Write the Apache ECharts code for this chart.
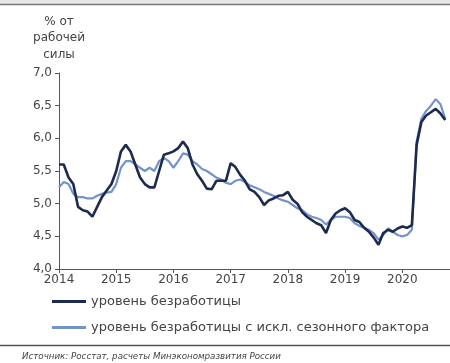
<!DOCTYPE html>
<html>
<head>
<meta charset="utf-8">
<script src="https://cdn.jsdelivr.net/npm/echarts@6/dist/echarts.min.js"></script>
<style>
html,body{margin:0;padding:0;background:#fff;}
#c{width:450px;height:363px;}
</style>
</head>
<body>
<div id="c"></div>
<script>
// Monthly data, Jan 2014 .. Oct 2020
const startYear = 2014;
const yearLabels = ['2014','2015','2016','2017','2018','2019','2020'];
const yTicks = ['4,0','4,5','5,0','5,5','6,0','6,5','7,0'];
const seriesNames = ['уровень безработицы', 'уровень безработицы с искл. сезонного фактора'];
const unemployment = [
  5.6, 5.6, 5.4, 5.3, 4.95, 4.9, 4.88, 4.8, 4.95, 5.1, 5.2, 5.3,
  5.5, 5.8, 5.9, 5.8, 5.6, 5.4, 5.3, 5.25, 5.25, 5.5, 5.75, 5.77,
  5.8, 5.85, 5.95, 5.85, 5.6, 5.45, 5.35, 5.23, 5.22, 5.35, 5.35, 5.35,
  5.62, 5.56, 5.44, 5.35, 5.22, 5.18, 5.1, 4.98, 5.05, 5.08, 5.12, 5.13,
  5.18, 5.06, 5.0, 4.87, 4.8, 4.75, 4.7, 4.67, 4.55, 4.75, 4.85, 4.9,
  4.93, 4.87, 4.75, 4.72, 4.63, 4.57, 4.48, 4.37, 4.55, 4.6, 4.57, 4.62,
  4.65, 4.63, 4.67, 5.9, 6.25, 6.35, 6.4, 6.45, 6.38, 6.28
];
const unemploymentSA = [
  5.25, 5.33, 5.3, 5.15, 5.1, 5.1, 5.08, 5.08, 5.12, 5.15, 5.17, 5.18,
  5.3, 5.55, 5.65, 5.65, 5.6, 5.55, 5.5, 5.55, 5.5, 5.65, 5.7, 5.65,
  5.55, 5.65, 5.77, 5.75, 5.65, 5.6, 5.53, 5.5, 5.45, 5.4, 5.37, 5.32,
  5.3, 5.35, 5.37, 5.33, 5.28, 5.25, 5.22, 5.18, 5.15, 5.12, 5.08, 5.05,
  5.03, 4.98, 4.93, 4.9, 4.84, 4.8, 4.78, 4.75, 4.68, 4.75, 4.8, 4.8,
  4.8, 4.78, 4.7, 4.66, 4.63, 4.6, 4.55, 4.45, 4.52, 4.62, 4.57, 4.52,
  4.5, 4.52, 4.6, 5.95, 6.3, 6.42, 6.5, 6.6, 6.52, 6.3
];

const FONT = 'DejaVu Sans';
const chart = echarts.init(document.getElementById('c'), null, {renderer: 'canvas'});
const toPts = arr => arr.map((v, i) => [i, v]);

chart.setOption({
  backgroundColor: '#fff',
  animation: false,
  grid: {left: 59, right: 0, top: 73, bottom: 94, containLabel: false},
  xAxis: {
    type: 'value', min: 0, max: 82, interval: 12,
    axisLine: {show: true, lineStyle: {color: '#555', width: 1}},
    axisTick: {show: true, length: 4, lineStyle: {color: '#555'}},
    splitLine: {show: false},
    axisLabel: {
      color: '#444', fontFamily: FONT, fontSize: 12, margin: 5,
      showMaxLabel: false,
      formatter: v => yearLabels[Math.round(v / 12)] || ''
    }
  },
  yAxis: {
    type: 'value', min: 4, max: 7, interval: 0.5,
    name: '% от\nрабочей\nсилы',
    nameLocation: 'end', nameGap: 10,
    nameTextStyle: {color: '#444', fontFamily: FONT, fontSize: 12, lineHeight: 16.5, align: 'center', verticalAlign: 'bottom'},
    axisLine: {show: true, lineStyle: {color: '#555', width: 1}},
    axisTick: {show: true, length: 4, lineStyle: {color: '#555'}},
    splitLine: {show: false},
    axisLabel: {
      color: '#444', fontFamily: FONT, fontSize: 12, margin: 7,
      formatter: v => yTicks[Math.round((v - 4) / 0.5)]
    }
  },
  legend: [
    {
      orient: 'vertical', left: 52, top: 295, padding: 0, itemWidth: 34, itemHeight: 3,
      icon: 'rect', data: [seriesNames[0]],
      textStyle: {color: '#444', fontFamily: FONT, fontSize: 13}
    },
    {
      orient: 'vertical', left: 52, top: 321, padding: 0, itemWidth: 34, itemHeight: 3,
      icon: 'rect', data: [seriesNames[1]],
      textStyle: {color: '#444', fontFamily: FONT, fontSize: 13}
    }
  ],
  series: [
    {
      name: seriesNames[1], type: 'line', data: toPts(unemploymentSA),
      showSymbol: false, symbol: 'none',
      lineStyle: {color: '#7593cb', width: 2.2},
      itemStyle: {color: '#7593cb'}
    },
    {
      name: seriesNames[0], type: 'line', data: toPts(unemployment),
      showSymbol: false, symbol: 'none',
      lineStyle: {color: '#1b2a4e', width: 2.6},
      itemStyle: {color: '#1b2a4e'}
    }
  ],
  graphic: [
    {type: 'rect', shape: {x: 0, y: 0, width: 450, height: 4}, style: {fill: '#e6e6e6'}},
    {type: 'line', shape: {x1: 0, y1: 4.5, x2: 450, y2: 4.5}, style: {stroke: '#777', lineWidth: 1.5}},
    {type: 'line', shape: {x1: 0, y1: 345.5, x2: 450, y2: 345.5}, style: {stroke: '#555', lineWidth: 1.5}},
    {type: 'text', left: 22, top: 352, style: {text: 'Источник: Росстат, расчеты Минэкономразвития России', fill: '#444', font: 'italic 8.7px "DejaVu Sans"'}}
  ]
});
</script>
</body>
</html>
